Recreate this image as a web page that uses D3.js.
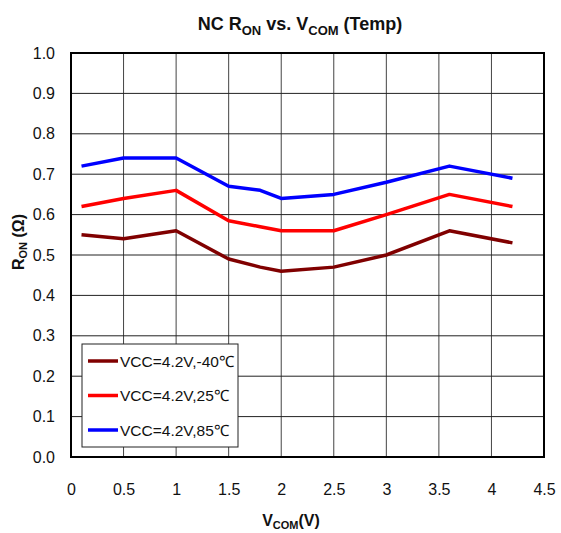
<!DOCTYPE html>
<html>
<head>
<meta charset="utf-8">
<script src="https://cdn.jsdelivr.net/npm/d3@7"></script>
<style>
  body { margin: 0; background: #fff; }
  svg text { font-family: "Liberation Sans Narrow", "Arial Narrow", "Liberation Sans", Arial, sans-serif; fill: #111; }
</style>
</head>
<body>
<div id="chart"></div>
<script>
// Data
const vcom = [0.1, 0.5, 1, 1.5, 1.8, 2, 2.5, 3, 3.6, 4.2];
const ronMinus40 = [0.55, 0.54, 0.56, 0.49, 0.47, 0.46, 0.47, 0.50, 0.56, 0.53];
const ron25 = [0.62, 0.64, 0.66, 0.585, 0.57, 0.56, 0.56, 0.60, 0.65, 0.62];
const ron85 = [0.72, 0.74, 0.74, 0.67, 0.66, 0.64, 0.65, 0.68, 0.72, 0.69];
const seriesNames = ['VCC=4.2V,-40\u2103', 'VCC=4.2V,25\u2103', 'VCC=4.2V,85\u2103'];
const seriesColors = ['#800000', '#ff0000', '#0000ff'];
const xTicks = [0, 0.5, 1, 1.5, 2, 2.5, 3, 3.5, 4, 4.5];
const yTicks = [0, 0.1, 0.2, 0.3, 0.4, 0.5, 0.6, 0.7, 0.8, 0.9, 1.0];

const width = 561;
const height = 533;
const margin = { top: 53, right: 17, bottom: 76, left: 71 };

const svg = d3.select('#chart').append('svg')
  .attr('width', width)
  .attr('height', height);

const x = d3.scaleLinear()
  .domain([0, 4.5])
  .range([margin.left, width - margin.right]);

const y = d3.scaleLinear()
  .domain([0, 1])
  .range([height - margin.bottom, margin.top]);

// Gridlines
svg.append('g')
  .selectAll('line')
  .data(xTicks)
  .join('line')
  .attr('x1', d => x(d)).attr('x2', d => x(d))
  .attr('y1', y(0)).attr('y2', y(1))
  .attr('stroke', '#444')
  .attr('stroke-width', 1);

svg.append('g')
  .selectAll('line')
  .data(yTicks)
  .join('line')
  .attr('x1', x(0)).attr('x2', x(4.5))
  .attr('y1', d => y(d)).attr('y2', d => y(d))
  .attr('stroke', '#222')
  .attr('stroke-width', 1);

// Axes (labels only)
const xAxis = svg.append('g')
  .attr('transform', `translate(0, ${y(0)})`)
  .call(d3.axisBottom(x).tickValues(xTicks).tickSize(0).tickPadding(27)
    .tickFormat(d => d3.format('')(d)));
xAxis.select('.domain').remove();
xAxis.selectAll('text').style('font-size', '16px');

const yAxis = svg.append('g')
  .attr('transform', `translate(${x(0)}, 0)`)
  .call(d3.axisLeft(y).tickValues(yTicks).tickSize(0).tickPadding(16)
    .tickFormat(d3.format('.1f')));
yAxis.select('.domain').remove();
yAxis.selectAll('text').style('font-size', '16px');

// Plot border
svg.append('rect')
  .attr('x', x(0)).attr('y', y(1))
  .attr('width', x(4.5) - x(0))
  .attr('height', y(0) - y(1))
  .attr('fill', 'none')
  .attr('stroke', '#000')
  .attr('stroke-width', 2);

// Lines
const seriesData = [ronMinus40, ron25, ron85];
const line = d3.line()
  .x((d, i) => x(vcom[i]))
  .y(d => y(d));

svg.append('g')
  .selectAll('path')
  .data(seriesData)
  .join('path')
  .attr('d', d => line(d))
  .attr('fill', 'none')
  .attr('stroke', (d, i) => seriesColors[i])
  .attr('stroke-width', 3.5)
  .attr('stroke-linejoin', 'round');

// Legend
const legend = svg.append('g');
legend.append('rect')
  .attr('x', 82).attr('y', 344)
  .attr('width', 156).attr('height', 103)
  .attr('fill', '#fff')
  .attr('stroke', '#222')
  .attr('stroke-width', 1);

const items = legend.selectAll('g')
  .data(seriesNames)
  .join('g')
  .attr('transform', (d, i) => `translate(88, ${361 + i * 34.5})`);

items.append('line')
  .attr('x1', 0).attr('x2', 30)
  .attr('stroke', (d, i) => seriesColors[i])
  .attr('stroke-width', 3.5);

items.append('text')
  .attr('x', 32)
  .attr('dy', '0.36em')
  .style('font-size', '15.5px')
  .text(d => d);

// Title
const title = svg.append('text')
  .attr('x', 300).attr('y', 30)
  .attr('text-anchor', 'middle')
  .style('font-size', '18px')
  .style('font-weight', 'bold');
title.append('tspan').text('NC R');
title.append('tspan').attr('dy', 5).style('font-size', '13px').text('ON');
title.append('tspan').attr('dy', -5).text(' vs. V');
title.append('tspan').attr('dy', 5).style('font-size', '13px').text('COM');
title.append('tspan').attr('dy', -5).text(' (Temp)');

// X label
const xLabel = svg.append('text')
  .attr('x', 291).attr('y', 526)
  .attr('text-anchor', 'middle')
  .style('font-size', '16px')
  .style('font-weight', 'bold');
xLabel.append('tspan').text('V');
xLabel.append('tspan').attr('dy', 3).style('font-size', '11px').text('COM');
xLabel.append('tspan').attr('dy', -3).text('(V)');

// Y label
const yLabel = svg.append('text')
  .attr('transform', 'translate(24, 242) rotate(-90)')
  .attr('text-anchor', 'middle')
  .style('font-family', '"Liberation Sans", Arial, sans-serif')
  .style('font-size', '16px')
  .style('font-weight', 'bold');
yLabel.append('tspan').text('R');
yLabel.append('tspan').attr('dy', 3).style('font-size', '11px').text('ON');
yLabel.append('tspan').attr('dy', -3).text(' (\u03A9)');
</script>
</body>
</html>
